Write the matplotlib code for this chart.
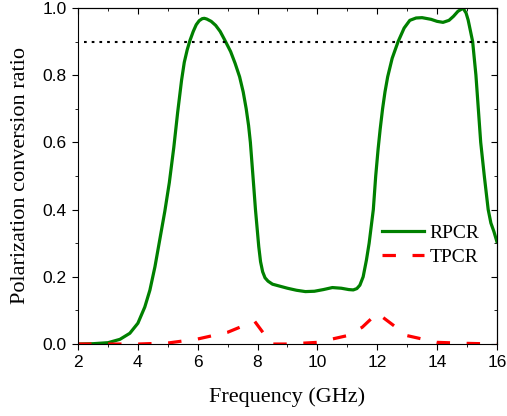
import matplotlib.pyplot as plt
from matplotlib.ticker import MultipleLocator

# RPCR (solid green)
freq_r = [2.0, 2.5, 3.0, 3.4, 3.73, 4.0, 4.23, 4.4, 4.57, 4.73, 4.9, 5.05,
          5.2, 5.33, 5.46, 5.55, 5.65, 5.74, 5.85, 5.95, 6.05, 6.15, 6.22,
          6.3, 6.45, 6.6, 6.75, 6.9, 7.1, 7.25, 7.4, 7.52, 7.62, 7.7, 7.76,
          7.82, 7.88, 7.93, 7.98, 8.04, 8.1, 8.17, 8.25, 8.35, 8.5, 8.75, 9.0,
          9.3, 9.6, 9.9, 10.2, 10.5, 10.8, 11.05, 11.2, 11.32, 11.42, 11.53,
          11.64, 11.73, 11.87, 11.95, 12.03, 12.1, 12.18, 12.26, 12.35, 12.5,
          12.7, 12.9, 13.09, 13.3, 13.5, 13.8, 14.0, 14.2, 14.4, 14.55, 14.7,
          14.87, 14.97, 15.04, 15.12, 15.19, 15.3, 15.38, 15.46, 15.58, 15.71,
          15.8, 15.9, 16.0]
rpcr = [0.000, 0.001, 0.004, 0.014, 0.032, 0.062, 0.110, 0.160, 0.230, 0.310,
        0.395, 0.480, 0.585, 0.690, 0.785, 0.838, 0.876, 0.903, 0.930, 0.950,
        0.962, 0.968, 0.969, 0.967, 0.960, 0.948, 0.930, 0.905, 0.870, 0.835,
        0.795, 0.750, 0.700, 0.650, 0.600, 0.530, 0.460, 0.400, 0.350, 0.290,
        0.245, 0.215, 0.197, 0.187, 0.178, 0.172, 0.166, 0.160, 0.156, 0.157,
        0.162, 0.168, 0.166, 0.162, 0.161, 0.165, 0.175, 0.200, 0.250, 0.300,
        0.400, 0.500, 0.580, 0.640, 0.700, 0.750, 0.795, 0.850, 0.900, 0.940,
        0.963, 0.970, 0.971, 0.966, 0.960, 0.957, 0.963, 0.975, 0.990, 0.999,
        0.985, 0.964, 0.930, 0.900, 0.800, 0.700, 0.600, 0.500, 0.400, 0.360,
        0.335, 0.305]

# TPCR (dashed red)
freq_t = [2.0, 3.0, 4.0, 5.0, 6.0, 7.0, 7.9, 8.2, 8.45, 9.0, 10.0, 11.0, 11.5, 12.0, 13.0, 14.0, 15.0, 16.0]
tpcr = [0.0, 0.0, 0.0, 0.003, 0.015, 0.035, 0.068, 0.032, 0.0, 0.0, 0.005, 0.025, 0.05, 0.092, 0.025, 0.005, 0.002, 0.0]

threshold = 0.9

fig = plt.figure(figsize=(5.07, 4.16), dpi=100)
ax = fig.add_axes([0.154, 0.173, 0.826, 0.808])

ax.plot(freq_r, rpcr, color='#008000', lw=2.3, label='RPCR')
ax.plot(freq_t, tpcr, color='red', lw=2.3, ls=(0, (4.2, 5.2)), label='TPCR')
ax.plot([2.2, 16], [threshold, threshold], color='black', lw=1.5, ls=(0, (1.3, 2.4)))

ax.set_xlim(2, 16)
ax.set_ylim(0, 1.0)
ax.xaxis.set_major_locator(MultipleLocator(2))
ax.xaxis.set_minor_locator(MultipleLocator(1))
ax.yaxis.set_major_locator(MultipleLocator(0.2))
ax.yaxis.set_minor_locator(MultipleLocator(0.1))
# bottom/left ticks point out, top/right point in (Origin style)
ax.tick_params(which='both', direction='out', labelsize=12.5, pad=3.5)
ax.tick_params(which='major', length=4.5)
ax.tick_params(which='minor', length=2.5)
for lab in ax.get_xticklabels() + ax.get_yticklabels():
    lab.set_family('Liberation Sans')

top = ax.secondary_xaxis('top')
top.xaxis.set_major_locator(MultipleLocator(2))
top.xaxis.set_minor_locator(MultipleLocator(1))
top.tick_params(which='both', direction='in', labeltop=False)
top.tick_params(which='major', length=4.5)
top.tick_params(which='minor', length=2.5)

right = ax.secondary_yaxis('right')
right.yaxis.set_major_locator(MultipleLocator(0.2))
right.yaxis.set_minor_locator(MultipleLocator(0.1))
right.tick_params(which='both', direction='in', labelright=False)
right.tick_params(which='major', length=4.5)
right.tick_params(which='minor', length=2.5)

ax.set_xlabel('Frequency (GHz)', family='Liberation Serif', fontsize=16, labelpad=12)
ax.set_ylabel('Polarization conversion ratio', family='Liberation Serif', fontsize=16, labelpad=9.5)

ax.legend(loc='center right', bbox_to_anchor=(1.0, 0.294), frameon=False,
          prop={'family': 'Liberation Serif', 'size': 14}, handlelength=2.15,
          handletextpad=0.3, labelspacing=0.3)

fig.savefig('out.png', dpi=100)
